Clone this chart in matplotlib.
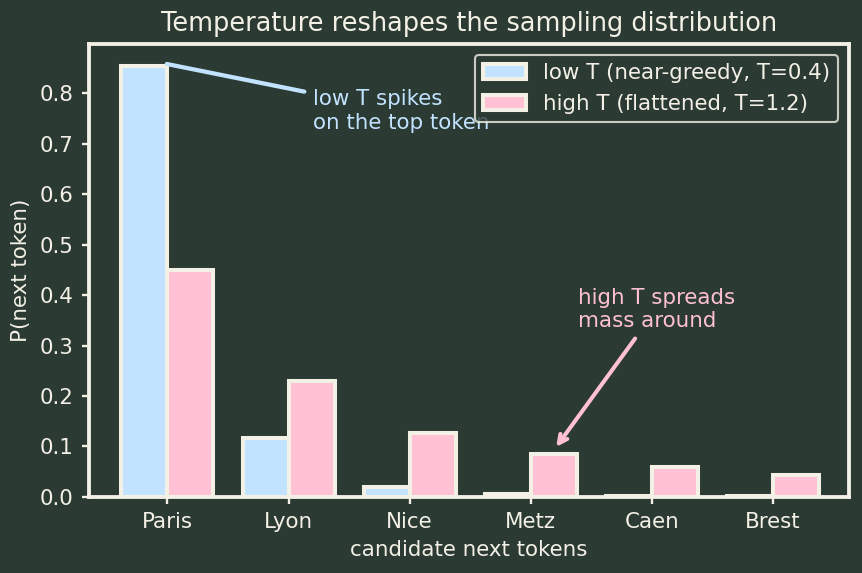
import numpy as np
import matplotlib
matplotlib.use("Agg")
import matplotlib.pyplot as plt

tokens = ["Paris", "Lyon", "Nice", "Metz", "Caen", "Brest"]
p_low = [0.855, 0.117, 0.020, 0.005, 0.002, 0.001]
p_high = [0.450, 0.230, 0.127, 0.084, 0.060, 0.043]

bg = "#2b3a33"
ivory = "#f3f0e6"
blue = "#c2e3ff"
pink = "#ffc1d3"

dpi = 153.5
plt.rcParams["font.family"] = "DejaVu Sans"
fig, ax = plt.subplots(figsize=(862 / dpi, 573 / dpi), dpi=dpi)
fig.patch.set_facecolor(bg)
ax.set_facecolor(bg)

x = np.arange(len(tokens))
w = 0.38
ax.bar(x - w / 2, p_low, w, color=blue, edgecolor=ivory, linewidth=1.9,
       label="low T (near-greedy, T=0.4)")
ax.bar(x + w / 2, p_high, w, color=pink, edgecolor=ivory, linewidth=1.9,
       label="high T (flattened, T=1.2)")

ax.set_xticks(x)
ax.set_xticklabels(tokens)
ax.set_ylim(0, max(p_low) * 1.05)
ax.set_xlim(-0.65, 5.63)
ax.set_xlabel("candidate next tokens", color=ivory)
ax.set_ylabel("P(next token)", color=ivory)
ax.set_title("Temperature reshapes the sampling distribution", color=ivory, fontsize=12)

for s in ax.spines.values():
    s.set_color(ivory)
    s.set_linewidth(1.8)
ax.tick_params(colors=ivory, width=1.1)

ax.annotate("low T spikes\non the top token", xy=(-0.04, 0.86), xytext=(1.2, 0.765),
            color=blue, fontsize=10, ha="left", va="center",
            arrowprops=dict(arrowstyle="-", color=blue, lw=2))
ax.annotate("high T spreads\nmass around", xy=(3.19, 0.092), xytext=(3.39, 0.372),
            color=pink, fontsize=10, ha="left", va="center",
            arrowprops=dict(arrowstyle="->", color=pink, lw=1.9))

leg = ax.legend(loc="upper right", facecolor=bg, edgecolor=ivory, fontsize=10)
for t in leg.get_texts():
    t.set_color(ivory)

fig.subplots_adjust(left=0.103, right=0.985, top=0.923, bottom=0.133)
fig.savefig("out.png", dpi=dpi, facecolor=bg)
